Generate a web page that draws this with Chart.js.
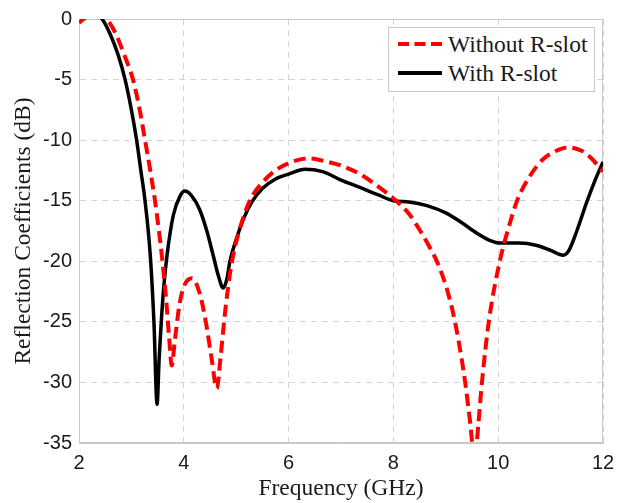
<!DOCTYPE html>
<html>
<head>
<meta charset="utf-8">
<script src="https://cdn.jsdelivr.net/npm/chart.js@4.4.1/dist/chart.umd.min.js"></script>
<style>
  html, body { margin: 0; padding: 0; background: #fff; }
  #wrap { position: relative; width: 619px; height: 503px; }
  #legend {
    position: absolute; left: 388px; top: 27px; width: 207px; height: 65px;
    border: 1px solid #c8c8c8; background: #fff; box-sizing: border-box;
    font-family: "Liberation Serif", "Times New Roman", serif; font-size: 23.5px; color: #1a1a1a;
  }
  .row { position: absolute; left: 0; height: 28px; display: flex; align-items: center; white-space: nowrap; }
  .row svg { margin-left: 9px; margin-right: 6px; }
</style>
</head>
<body>
<div id="wrap">
  <canvas id="c" width="619" height="503"></canvas>
  <div id="legend">
    <div class="row" style="top:2px">
      <svg width="44" height="6"><line x1="0" y1="3" x2="44" y2="3" stroke="#ff0000" stroke-width="4" stroke-dasharray="11,5.5"/></svg>
      <span>Without R-slot</span>
    </div>
    <div class="row" style="top:31px">
      <svg width="44" height="6"><line x1="0" y1="3" x2="44" y2="3" stroke="#000" stroke-width="4"/></svg>
      <span>With R-slot</span>
    </div>
  </div>
</div>
<script>
// ---- data ----
const seriesNames = ["Without R-slot", "With R-slot"];

const freqWithout = [2.0, 2.2, 2.4, 2.53, 2.7, 2.85, 3.03, 3.15, 3.26, 3.36, 3.45, 3.52, 3.58, 3.66, 3.72, 3.77,
  3.83, 3.92, 4.02, 4.16, 4.3, 4.42, 4.53, 4.63, 4.7, 4.78, 4.85, 4.92, 5.05, 5.26, 5.5, 5.75, 6.0, 6.37,
  6.75, 7.0, 7.36, 7.7, 8.05, 8.3, 8.5, 8.7, 8.85, 9.0, 9.12, 9.22, 9.3, 9.37, 9.47, 9.55, 9.62, 9.69, 9.82, 10.03,
  10.2, 10.36, 10.6, 10.85, 11.1, 11.33, 11.6, 11.8, 12.0];
const lossWithout = [-0.3, 0.3, 0.4, 0, -1.2, -2.8, -5, -7.3, -10, -12.5, -15, -17.3, -19.5, -23, -26.3, -28.6,
  -26.5, -23.5, -21.9, -21.4, -22.6, -25, -28, -30.5, -28, -24.5, -22, -20, -17.6, -15, -13.5, -12.5, -11.9, -11.5,
  -11.8, -12.1, -12.8, -13.8, -15, -16.1, -17.4, -18.9, -20.2, -22, -23.9, -26, -28, -30, -33.5, -36.5, -33.5, -30, -25, -20,
  -17.2, -15, -13, -11.6, -10.9, -10.6, -10.9, -11.6, -12.6];

const freqWith = [2.0, 2.2, 2.44, 2.6, 2.75, 2.88, 3.0, 3.1, 3.18, 3.26, 3.36, 3.43, 3.49, 3.53, 3.57, 3.62, 3.68,
  3.8, 3.93, 4.02, 4.15, 4.3, 4.44, 4.56, 4.66, 4.75, 4.82, 4.88, 5.0, 5.15, 5.3, 5.5, 5.75, 6.0, 6.31, 6.65,
  7.0, 7.36, 7.7, 8.0, 8.3, 8.64, 9.0, 9.3, 9.6, 9.85, 10.03, 10.4, 10.74, 11.0, 11.24, 11.35, 11.5, 11.7,
  11.85, 12.0];
const lossWith = [1.0, 0.8, 0, -1.3, -3, -5, -7.5, -10, -12.5, -15, -19.5, -25, -31.8, -28, -25, -22, -19.5,
  -16.2, -14.6, -14.2, -14.6, -15.7, -17.5, -19.5, -21.2, -22.2, -21.5, -20, -18.2, -16.4, -15.1, -14, -13.2, -12.8, -12.4, -12.6,
  -13.3, -13.9, -14.5, -15, -15.1, -15.4, -16.0, -16.8, -17.7, -18.3, -18.5, -18.5, -18.7, -19.1, -19.5, -19.1, -17.5, -15,
  -13.3, -11.8];

const xTicks = [2, 4, 6, 8, 10, 12];
const yTicks = [0, -5, -10, -15, -20, -25, -30, -35];
const xTitle = "Frequency (GHz)";
const yTitle = "Reflection Coefficients (dB)";

// ---- chart ----
const toPts = (xs, ys) => xs.map((x, i) => ({ x: x, y: ys[i] }));

const frameBox = {
  id: 'frameBox',
  beforeDatasetsDraw(chart) {
    const a = chart.chartArea, ctx = chart.ctx;
    ctx.save();
    ctx.strokeStyle = '#c8c8c8';
    ctx.lineWidth = 1;
    ctx.setLineDash([]);
    ctx.strokeRect(a.left + 0.5, a.top + 0.5, a.right - a.left - 1, a.bottom - a.top - 1);
    ctx.restore();
  }
};

const tickFont = { family: "'Liberation Sans', Arial, sans-serif", size: 20 };
const titleFont = { family: "'Liberation Serif', 'Times New Roman', serif", size: 23.5 };

new Chart(document.getElementById('c'), {
  type: 'line',
  data: {
    datasets: [
      {
        label: seriesNames[0],
        data: toPts(freqWithout, lossWithout),
        borderColor: '#ff0000',
        borderWidth: 4,
        borderDash: [12, 6],
        pointRadius: 0,
        fill: false,
        cubicInterpolationMode: 'monotone',
        clip: 0
      },
      {
        label: seriesNames[1],
        data: toPts(freqWith, lossWith),
        borderColor: '#000000',
        borderWidth: 3.5,
        pointRadius: 0,
        fill: false,
        cubicInterpolationMode: 'monotone',
        clip: 0
      }
    ]
  },
  options: {
    responsive: false,
    animation: false,
    events: [],
    layout: { padding: { left: 0, top: 18, right: 16, bottom: 0 } },
    plugins: { legend: { display: false }, tooltip: { enabled: false } },
    scales: {
      x: {
        type: 'linear',
        min: 2, max: 12,
        afterBuildTicks: s => { s.ticks = xTicks.map(v => ({ value: v })); },
        afterFit: s => { s.height = 60; s.paddingRight = 0; s.paddingLeft = 0; },
        ticks: { font: tickFont, color: '#1a1a1a', padding: 8, maxRotation: 0, autoSkip: false },
        grid: { color: '#d4d4d4', lineWidth: 1, drawTicks: false },
        border: { display: true, color: '#c8c8c8', dash: [6, 5] },
        title: { display: true, text: xTitle, font: titleFont, color: '#1a1a1a', padding: { top: 0, bottom: 0 } }
      },
      y: {
        type: 'linear',
        min: -35, max: 0,
        afterBuildTicks: s => { s.ticks = yTicks.slice().reverse().map(v => ({ value: v })); },
        afterFit: s => { s.width = 79; },
        ticks: { font: tickFont, color: '#1a1a1a', padding: 7 },
        grid: { color: '#d4d4d4', lineWidth: 1, drawTicks: false },
        border: { display: true, color: '#c8c8c8', dash: [6, 5] },
        title: { display: true, text: yTitle, font: titleFont, color: '#1a1a1a', padding: { top: 10, bottom: 0 } }
      }
    }
  },
  plugins: [frameBox]
});
</script>
</body>
</html>
